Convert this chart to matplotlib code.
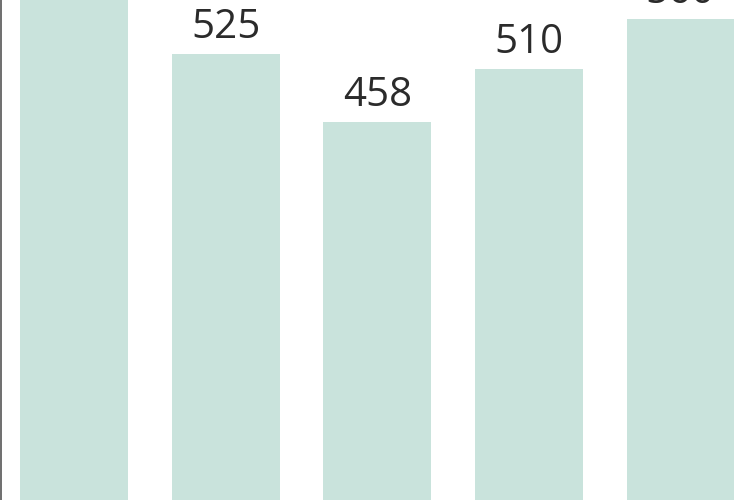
import matplotlib.pyplot as plt

categories = ["A", "B", "C", "D", "E"]
values = [600, 525, 458, 510, 560]
labels = ["600", "525", "458", "510", "560"]

bar_color = "#c9e3dc"
text_color = "#2b2b2b"

fig = plt.figure(figsize=(7.5, 5), dpi=100)
ax = fig.add_axes([1 / 750, 0, 1 - 1 / 750, 1])

x = range(len(categories))
bars = ax.bar(x, values, width=0.71, color=bar_color, zorder=2)

# value labels above each bar
for rect, lab in zip(bars, labels):
    ax.annotate(lab, (rect.get_x() + rect.get_width() / 2, rect.get_height()),
                xytext=(0, 11.5), textcoords="offset points",
                ha="center", va="baseline", fontsize=29,
                family=["Open Sans", "DejaVu Sans"], color=text_color)

ax.set_xlim(-0.483, 4.46)
ax.set_ylim(85.7, 578.3)

for side in ["top", "right", "bottom"]:
    ax.spines[side].set_visible(False)
ax.spines["left"].set_color("#555555")
ax.spines["left"].set_linewidth(1.2)
ax.set_xticks([])
ax.set_yticks([])

fig.savefig("out.png", dpi=100)
